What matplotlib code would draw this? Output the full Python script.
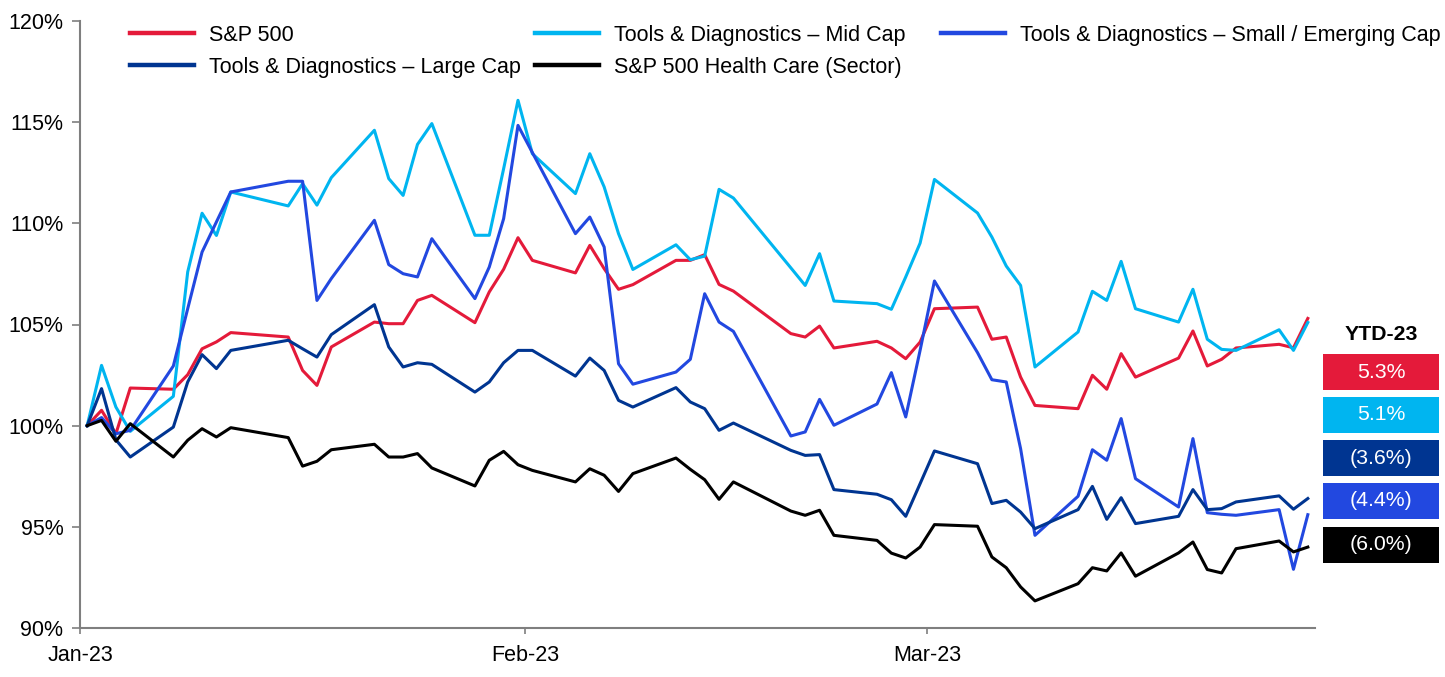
import matplotlib
matplotlib.use("Agg")
import matplotlib.pyplot as plt
import matplotlib.dates as mdates
from matplotlib.lines import Line2D
from matplotlib.patches import Rectangle
import pandas as pd

plt.rcParams['font.family'] = ['Liberation Sans', 'DejaVu Sans']

# trading days, Jan 3 - Mar 29 2023
dates = pd.to_datetime([
    "2023-01-03", "2023-01-04", "2023-01-05", "2023-01-06", "2023-01-09", "2023-01-10",
    "2023-01-11", "2023-01-12", "2023-01-13", "2023-01-17", "2023-01-18", "2023-01-19",
    "2023-01-20", "2023-01-23", "2023-01-24", "2023-01-25", "2023-01-26", "2023-01-27",
    "2023-01-30", "2023-01-31",
    "2023-02-01", "2023-02-02", "2023-02-03", "2023-02-06", "2023-02-07", "2023-02-08",
    "2023-02-09", "2023-02-10", "2023-02-13", "2023-02-14", "2023-02-15", "2023-02-16",
    "2023-02-17", "2023-02-21", "2023-02-22", "2023-02-23", "2023-02-24", "2023-02-27",
    "2023-02-28",
    "2023-03-01", "2023-03-02", "2023-03-03", "2023-03-06", "2023-03-07", "2023-03-08",
    "2023-03-09", "2023-03-10", "2023-03-13", "2023-03-14", "2023-03-15", "2023-03-16",
    "2023-03-17", "2023-03-20", "2023-03-21", "2023-03-22", "2023-03-23", "2023-03-24",
    "2023-03-27", "2023-03-28", "2023-03-29",
])

sp500 = [100, 100.76, 99.6, 101.86, 101.8, 102.52, 103.8, 104.14, 104.6, 104.38, 102.73, 101.99,
         103.89, 105.12, 105.04, 105.04, 106.19, 106.44, 105.09, 106.61,
         107.73, 109.29, 108.17, 107.55, 108.91, 107.76, 106.74, 106.97, 108.17, 108.17, 108.45, 106.98,
         106.65, 104.55, 104.38, 104.92, 103.84, 104.17, 103.84,
         103.31, 104.13, 105.78, 105.86, 104.27, 104.38, 102.4, 101.0, 100.84, 102.49, 101.8, 103.56,
         102.4, 103.34, 104.68, 102.95, 103.28, 103.84, 104.02, 103.85, 105.3]

mid_cap = [100, 102.98, 100.92, 99.72, 101.45, 107.6, 110.5, 109.4, 111.55, 110.86, 111.96, 110.9,
           112.26, 114.6, 112.21, 111.38, 113.9, 114.93, 109.41, 109.41,
           112.7, 116.08, 113.44, 111.47, 113.44, 111.8, 109.49, 107.72, 108.94, 108.2, 108.38, 111.68,
           111.25, 107.8, 106.93, 108.5, 106.16, 106.03, 105.75,
           107.35, 109.02, 112.17, 110.51, 109.32, 107.89, 106.93, 102.9, 104.63, 106.64, 106.19, 108.12,
           105.78, 105.12, 106.74, 104.27, 103.77, 103.72, 104.74, 103.72, 105.1]

small_cap = [100, 100.4, 99.6, 99.77, 102.95, 105.78, 108.58, 110.07, 111.55, 112.08, 112.08, 106.19,
             107.27, 110.15, 107.96, 107.51, 107.35, 109.24, 106.28, 107.84,
             110.23, 114.84, 113.5, 109.49, 110.31, 108.83, 103.06, 102.05, 102.65, 103.28, 106.52, 105.12,
             104.66, 99.49, 99.69, 101.3, 100.02, 101.07, 102.62,
             100.43, 103.72, 107.15, 103.61, 102.27, 102.16, 98.86, 94.58, 96.51, 98.81, 98.29, 100.35,
             97.38, 95.98, 99.36, 95.7, 95.62, 95.57, 95.85, 92.9, 95.6]

large_cap = [100, 101.83, 99.3, 98.45, 99.93, 102.16, 103.51, 102.82, 103.72, 104.22, 103.8, 103.39,
             104.5, 105.98, 103.89, 102.9, 103.11, 103.03, 101.66, 102.16,
             103.11, 103.72, 103.72, 102.45, 103.34, 102.73, 101.25, 100.92, 101.88, 101.17, 100.84, 99.77,
             100.13, 98.78, 98.53, 98.57, 96.84, 96.61, 96.34,
             95.52, 97.13, 98.75, 98.12, 96.15, 96.31, 95.73, 94.91, 95.85, 97.0, 95.37, 96.44,
             95.16, 95.52, 96.84, 95.85, 95.9, 96.23, 96.53, 95.87, 96.4]

health_care = [100, 100.26, 99.23, 100.1, 98.45, 99.28, 99.85, 99.44, 99.9, 99.41, 98.0, 98.24,
               98.81, 99.08, 98.45, 98.45, 98.62, 97.91, 97.02, 98.29,
               98.73, 98.07, 97.79, 97.22, 97.87, 97.55, 96.75, 97.63, 98.4, 97.84, 97.33, 96.36,
               97.22, 95.78, 95.57, 95.82, 94.58, 94.33, 93.7,
               93.46, 94.0, 95.11, 95.03, 93.51, 92.98, 92.03, 91.34, 92.19, 92.98, 92.82, 93.71,
               92.56, 93.71, 94.25, 92.89, 92.72, 93.92, 94.3, 93.76, 94.0]

names = ["S&P 500", "Tools & Diagnostics – Mid Cap", "Tools & Diagnostics – Small / Emerging Cap",
         "Tools & Diagnostics – Large Cap", "S&P 500 Health Care (Sector)"]
series = [sp500, mid_cap, small_cap, large_cap, health_care]
colors = ["#E41A3A", "#00B5F0", "#2248E0", "#003591", "#000000"]

# YTD boxes (top to bottom)
ytd_order = [0, 1, 3, 2, 4]
ytd_values = [5.3, 5.1, -3.6, -4.4, -6.0]

W, H = 1445, 677
fig = plt.figure(figsize=(W / 100, H / 100), dpi=100)
ax = fig.add_axes([80 / W, 49 / H, 1235 / W, 607 / H])

for s, c, n in zip(series, colors, names):
    ax.plot(dates, s, color=c, lw=2.2, label=n)

half = pd.Timedelta(hours=12)
ax.set_xlim(dates[0] - half, dates[-1] + half)
ax.set_ylim(90, 120)
ax.set_yticks(range(90, 121, 5))
ax.set_yticklabels([f"{v}%" for v in range(90, 121, 5)])
xt = [pd.Timestamp(d) - half for d in ["2023-01-03", "2023-02-03", "2023-03-03"]]
ax.set_xticks(xt)
ax.xaxis.set_major_formatter(mdates.DateFormatter("%b-%y"))

for side in ["top", "right"]:
    ax.spines[side].set_visible(False)
for side in ["left", "bottom"]:
    ax.spines[side].set_color("#7f7f7f")
    ax.spines[side].set_linewidth(1.5)
ax.tick_params(axis="y", length=6, width=1.2, color="#7f7f7f", labelsize=15.5, pad=6)
ax.tick_params(axis="x", length=4.5, width=1.2, color="#7f7f7f", labelsize=15.5, pad=8)

# legend, laid out row by row like the original
cols = [([0, 3], 130), ([1, 4], 535), ([2], 941)]
for idx, xpx in cols:
    handles = [Line2D([], [], color=colors[i], lw=3.2) for i in idx]
    fig.legend(handles, [names[i] for i in idx], loc="upper left",
               bbox_to_anchor=(xpx / W, 1 - 25 / H), frameon=False, fontsize=15.5,
               handlelength=2.95, handletextpad=0.7, labelspacing=0.5,
               borderpad=0, borderaxespad=0)

# YTD boxes
fig.text(1381 / W, 1 - 334 / H, "YTD-23", ha="center", va="center", fontsize=15.3, fontweight="bold")
box_tops = [354, 397, 440, 483, 527]
for top, i, v in zip(box_tops, ytd_order, ytd_values):
    fig.add_artist(Rectangle((1323 / W, 1 - (top + 36) / H), 116 / W, 36 / H,
                             transform=fig.transFigure, facecolor=colors[i], edgecolor="none"))
    label = f"{v:.1f}%" if v >= 0 else f"({abs(v):.1f}%)"
    fig.text(1381 / W, 1 - (top + 18) / H, label, ha="center", va="center",
             fontsize=15.3, color="white")

fig.savefig("out.png", dpi=100)
